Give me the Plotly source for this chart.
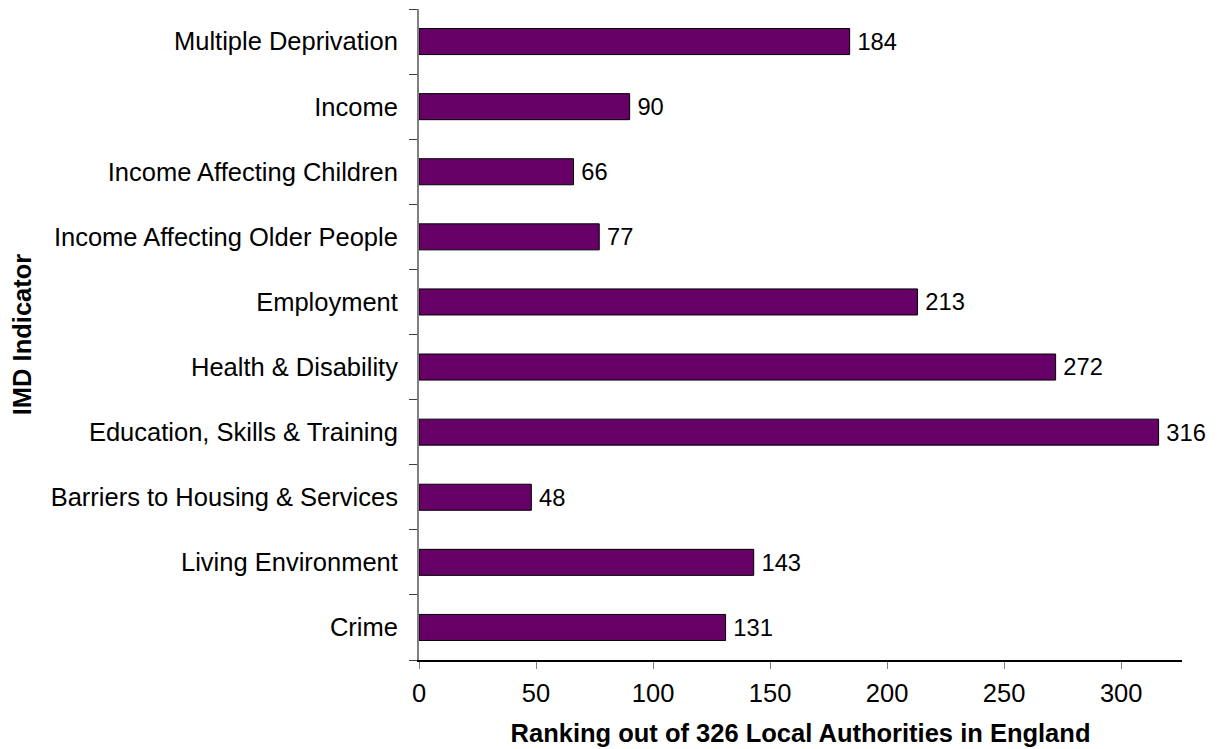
import plotly.graph_objects as go

categories = [
    "Multiple Deprivation",
    "Income",
    "Income Affecting Children",
    "Income Affecting Older People",
    "Employment",
    "Health & Disability",
    "Education, Skills & Training",
    "Barriers to Housing & Services",
    "Living Environment",
    "Crime",
]
rankings = [184, 90, 66, 77, 213, 272, 316, 48, 143, 131]
x_ticks = [0, 50, 100, 150, 200, 250, 300]

FONT = "Liberation Sans, Arial, sans-serif"
FS = 25.5

fig = go.Figure(
    go.Bar(
        y=categories,
        x=rankings,
        orientation="h",
        width=0.4,
        marker=dict(color="#660066", line=dict(color="#000000", width=1)),
        text=[str(v) for v in rankings],
        texttemplate="\u2009%{text}",
        textposition="outside",
        textfont=dict(family=FONT, size=FS, color="#000000"),
        cliponaxis=False,
    )
)

fig.update_layout(
    width=1210,
    height=741,
    margin=dict(l=411, r=36, t=1, b=89),
    plot_bgcolor="#ffffff",
    paper_bgcolor="#ffffff",
    showlegend=False,
    font=dict(family=FONT, size=FS, color="#000000"),
    bargap=0.6,
)

fig.update_xaxes(
    range=[0, 326],
    tickvals=x_ticks,
    ticktext=[str(t) for t in x_ticks],
    showgrid=False,
    zeroline=False,
    showline=True,
    linecolor="#000000",
    linewidth=1.5,
    ticks="outside",
    ticklen=7,
    tickcolor="#808080",
    ticklabelstandoff=3,
    tickfont=dict(family=FONT, size=FS, color="#000000"),
    title=dict(
        text="<b>Ranking out of 326 Local Authorities in England</b>",
        font=dict(family=FONT, size=FS, color="#000000"),
        standoff=18,
    ),
)

fig.update_yaxes(
    categoryorder="array",
    categoryarray=categories[::-1],
    showgrid=False,
    zeroline=False,
    showline=True,
    linecolor="#808080",
    linewidth=2,
    ticks="outside",
    tickson="boundaries",
    ticklen=8,
    tickcolor="#404040",
    ticklabelstandoff=14,
    tickfont=dict(family=FONT, size=FS, color="#000000"),
    title=dict(
        text="<b>IMD Indicator</b>",
        font=dict(family=FONT, size=FS, color="#000000"),
        standoff=20,
    ),
)

fig.write_html("out.html")
